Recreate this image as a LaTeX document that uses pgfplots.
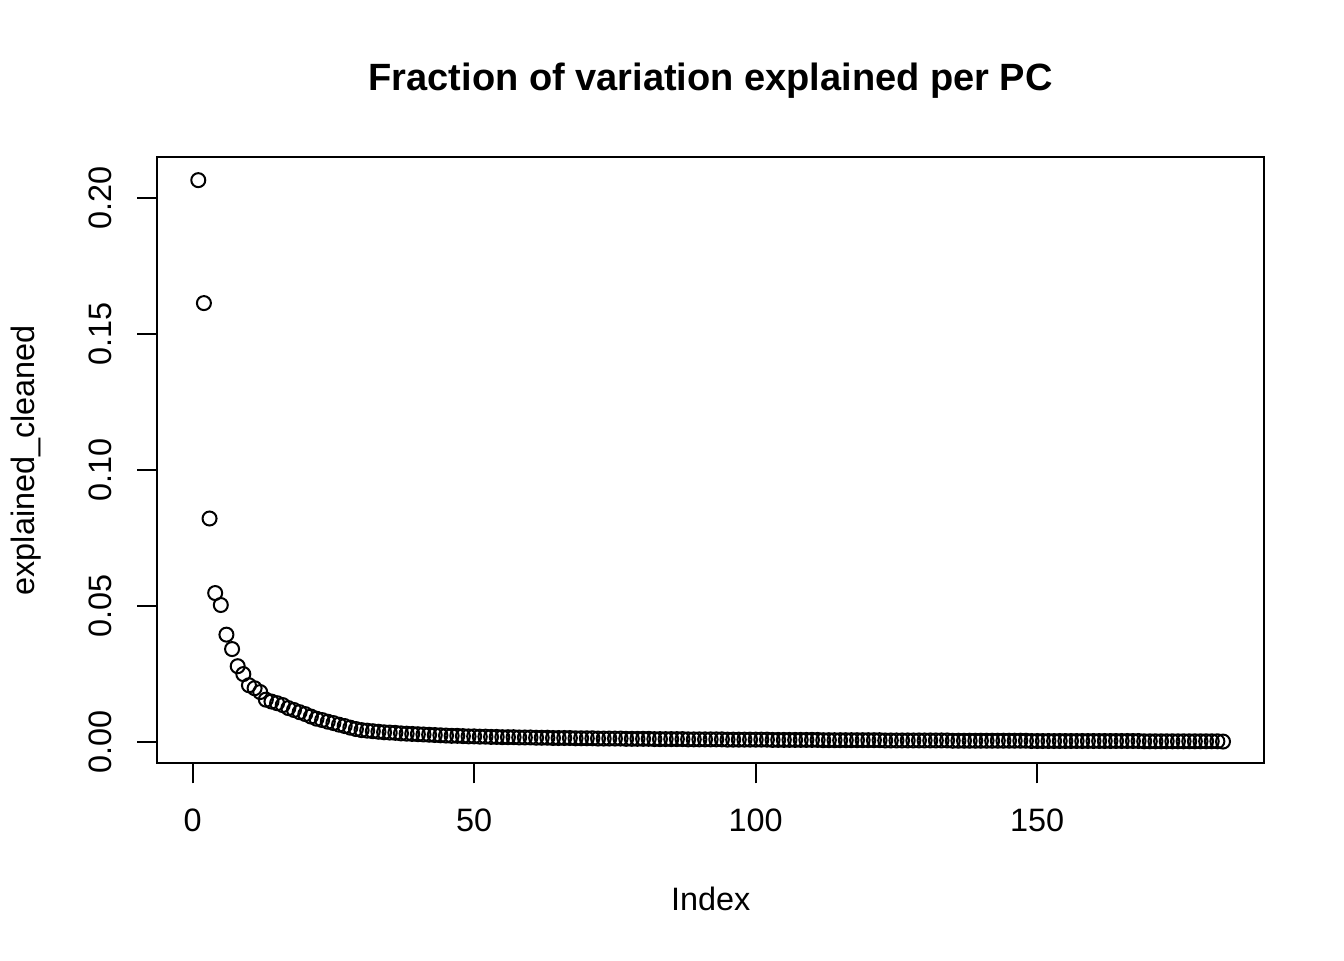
\documentclass[border=0pt]{standalone}
\usepackage{pgfplots}
\pgfplotsset{compat=1.18}
\usepackage{fontspec}
\setmainfont{Liberation Sans}
\pgfplotstableread{
x y
1 0.2065
2 0.1613
3 0.0821
4 0.0547
5 0.0503
6 0.0394
7 0.0341
8 0.0278
9 0.0249
10 0.0208
11 0.0197
12 0.0183
13 0.0155
14 0.0148
15 0.0142
16 0.0135
17 0.0124
18 0.0117
19 0.0109
20 0.0102
21 0.0093
22 0.0085
23 0.0080
24 0.0074
25 0.0069
26 0.0063
27 0.0058
28 0.0052
29 0.0047
30 0.0043
31 0.0041
32 0.0039
33 0.0037
34 0.0035
35 0.0034
36 0.0033
37 0.0031
38 0.0030
39 0.0029
40 0.0028
41 0.0027
42 0.0026
43 0.0025
44 0.0024
45 0.0023
46 0.0022
47 0.0022
48 0.0021
49 0.0020
50 0.0020
51 0.0019
52 0.0019
53 0.0018
54 0.0018
55 0.0017
56 0.0017
57 0.0017
58 0.0016
59 0.0016
60 0.0016
61 0.0015
62 0.0015
63 0.0015
64 0.0014
65 0.0014
66 0.0014
67 0.0014
68 0.0013
69 0.0013
70 0.0013
71 0.0013
72 0.0012
73 0.0012
74 0.0012
75 0.0012
76 0.0012
77 0.0011
78 0.0011
79 0.0011
80 0.0011
81 0.0011
82 0.0010
83 0.0010
84 0.0010
85 0.0010
86 0.0010
87 0.0010
88 0.0009
89 0.0009
90 0.0009
91 0.0009
92 0.0009
93 0.0009
94 0.0009
95 0.0008
96 0.0008
97 0.0008
98 0.0008
99 0.0008
100 0.0008
101 0.0008
102 0.0008
103 0.0007
104 0.0007
105 0.0007
106 0.0007
107 0.0007
108 0.0007
109 0.0007
110 0.0007
111 0.0007
112 0.0006
113 0.0006
114 0.0006
115 0.0006
116 0.0006
117 0.0006
118 0.0006
119 0.0006
120 0.0006
121 0.0006
122 0.0006
123 0.0005
124 0.0005
125 0.0005
126 0.0005
127 0.0005
128 0.0005
129 0.0005
130 0.0005
131 0.0005
132 0.0005
133 0.0005
134 0.0005
135 0.0004
136 0.0004
137 0.0004
138 0.0004
139 0.0004
140 0.0004
141 0.0004
142 0.0004
143 0.0004
144 0.0004
145 0.0004
146 0.0004
147 0.0004
148 0.0004
149 0.0003
150 0.0003
151 0.0003
152 0.0003
153 0.0003
154 0.0003
155 0.0003
156 0.0003
157 0.0003
158 0.0003
159 0.0003
160 0.0003
161 0.0003
162 0.0003
163 0.0003
164 0.0003
165 0.0003
166 0.0003
167 0.0003
168 0.0003
169 0.0002
170 0.0002
171 0.0002
172 0.0002
173 0.0002
174 0.0002
175 0.0002
176 0.0002
177 0.0002
178 0.0002
179 0.0002
180 0.0002
181 0.0002
182 0.0002
183 0.0001
}\pcdata
\begin{document}
\begin{tikzpicture}
\path[use as bounding box] (-78.65pt,-98.35pt) rectangle ++(672pt,480pt);
\begin{axis}[
  at={(0,0)}, anchor=south west,
  scale only axis, width=553.35pt, height=303pt,
  xmin=-6.28, xmax=190.28, ymin=-0.0079, ymax=0.2149,
  axis line style={line width=1pt},
  tick pos=left, tick align=outside, major tick length=10pt,
  tick style={line width=1pt, black},
  xtick={0,50,100,150}, xticklabels={0,50,100,150},
  ytick={0,0.05,0.1,0.15,0.2}, yticklabels={0.00,0.05,0.10,0.15,0.20},
  ticklabel style={font=\fontsize{16.2}{19}\selectfont},
  xticklabel style={anchor=base, yshift=-24.2pt},
  yticklabel style={anchor=base, xshift=-12.8pt, rotate=90},
  title={Fraction of variation explained per PC},
  title style={at={(axis description cs:0.5,1.0896)}, anchor=base, font=\fontsize{19.0}{23}\selectfont\bfseries},
  xlabel={Index},
  xlabel style={at={(axis description cs:0.5,-0.24208)}, anchor=base, font=\fontsize{16.2}{19}\selectfont},
  ylabel={explained\_cleaned},
  ylabel style={at={(axis description cs:-0.11114,0.5)}, anchor=base, font=\fontsize{16.2}{19}\selectfont},
  clip=false,
]
\addplot[only marks, mark=o, mark size=3.5pt, mark options={line width=1pt, black}] table[x=x, y=y] {\pcdata};
\end{axis}
\end{tikzpicture}
\end{document}
